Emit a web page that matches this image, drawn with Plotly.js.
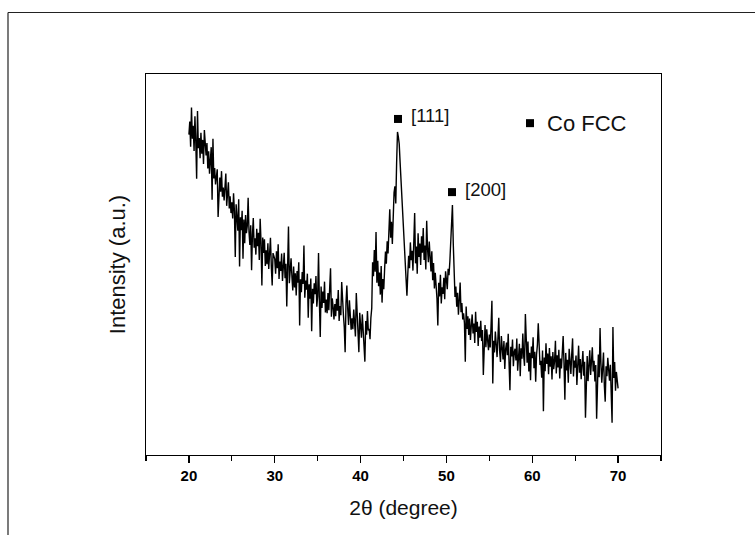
<!DOCTYPE html>
<html>
<head>
<meta charset="utf-8">
<script src="https://cdn.plot.ly/plotly-3.0.1.min.js"></script>
<style>
html,body{margin:0;padding:0;background:#fff;}
#chart{width:755px;height:535px;}
</style>
</head>
<body>
<div id="chart"></div>
<script>
// 2-theta sampling grid (degrees)
const twoThetaStart = 20.0;
const twoThetaStep = 0.1;

// Intensity (a.u.), one row per degree (20.0 ... 70.0)
const intensity = [
84.1,87.5,80.9,91.2,83.0,86.4,79.8,88.9,82.2,72.5,
90.3,80.5,83.2,77.9,84.6,79.1,82.7,76.4,85.3,80.0,
78.6,81.9,75.2,79.7,73.8,77.5,80.8,67.0,83.0,72.6,
75.3,71.0,73.9,75.0,62.5,70.4,72.8,69.1,74.5,67.8,
70.2,66.8,69.5,73.9,65.4,68.1,71.6,64.7,67.9,63.5,
66.3,62.1,68.7,64.0,52.0,65.8,63.2,58.9,67.1,49.5,
62.4,59.0,64.1,51.5,61.8,55.6,63.0,58.2,60.1,67.5,
58.6,55.1,60.3,48.5,57.7,62.2,54.4,56.9,52.6,59.4,
54.8,58.3,51.2,62.0,55.9,44.5,57.1,53.0,56.6,49.6,
53.7,50.1,55.6,48.8,52.9,57.0,49.5,44.5,53.0,51.8,
51.4,47.6,53.5,49.0,55.3,46.2,50.8,48.3,52.9,45.7,
49.8,53.1,46.4,50.2,39.0,47.9,60.0,45.1,48.7,51.6,
46.8,43.2,49.5,44.0,47.7,41.9,48.3,45.2,50.6,34.0,
46.1,42.7,48.0,44.9,55.0,41.3,45.8,43.4,47.6,36.0,
44.8,41.0,46.3,32.5,43.6,39.8,45.1,42.2,47.0,38.9,
41.7,53.0,40.3,31.0,44.2,38.6,42.9,39.9,45.5,37.4,
40.8,37.2,42.5,38.0,43.9,49.0,36.3,41.1,38.8,35.6,
39.6,36.4,41.0,37.9,43.3,35.2,39.1,36.7,45.4,38.0,
36.8,33.5,27.0,39.9,44.5,38.4,34.1,40.6,36.2,32.9,
35.9,33.0,38.2,34.6,31.1,42.5,36.4,32.2,27.0,37.3,
34.0,30.8,36.9,33.4,29.5,24.5,35.2,31.6,37.8,32.7,
33.1,30.4,36.0,38.5,50.6,46.9,53.8,48.1,58.5,45.2,
51.0,44.3,47.9,42.1,49.6,40.0,46.2,43.5,48.8,53.4,
50.2,56.1,52.9,58.8,64.5,57.0,61.2,55.4,63.6,68.9,
70.5,66.0,76.8,84.8,83.5,81.7,77.0,72.6,68.0,63.4,
58.9,55.2,50.7,44.8,41.8,47.5,52.3,49.0,55.8,51.1,
53.6,48.4,56.9,63.5,50.3,54.7,47.6,58.2,52.0,55.5,
49.9,57.4,53.1,59.6,51.2,55.0,48.7,61.5,54.3,50.6,
56.0,51.8,48.2,53.5,45.9,50.4,43.7,47.8,44.6,41.0,
34.0,45.2,41.6,47.3,39.8,44.0,42.3,46.5,40.9,48.2,
46.0,43.5,48.9,47.2,50.8,54.9,58.7,65.6,55.4,46.3,
41.5,44.2,38.9,42.6,36.8,40.7,45.3,37.5,39.9,35.6,
37.2,34.6,24.5,39.0,33.1,36.4,31.5,35.8,30.2,34.0,
36.9,31.9,34.5,29.4,37.6,32.3,35.0,28.6,33.7,30.8,
35.2,29.9,32.8,21.0,31.4,34.1,28.3,33.0,30.1,27.5,
31.6,28.2,33.9,40.5,18.8,30.0,26.9,32.4,29.1,25.7,
30.7,36.0,27.3,24.4,31.2,28.8,25.1,29.9,22.6,27.8,
29.5,26.2,31.8,24.0,17.0,28.4,25.9,30.3,23.3,27.0,
27.9,24.8,30.6,22.1,26.5,29.2,20.7,28.0,25.3,31.9,
26.0,23.4,37.0,27.7,24.2,29.8,21.9,26.8,19.6,28.5,
25.4,30.9,22.8,27.1,19.2,26.3,28.9,34.6,25.8,23.6,
24.7,20.3,27.4,11.5,25.6,22.0,29.3,23.9,26.6,21.2,
28.1,23.2,25.9,19.8,27.0,22.5,24.6,30.0,21.4,26.2,
23.0,27.6,20.1,25.3,22.7,28.4,31.2,24.0,14.5,26.8,
22.2,25.0,19.0,27.9,23.5,21.3,26.4,30.6,20.6,24.8,
22.9,26.1,18.4,24.3,28.7,21.6,25.2,19.9,23.8,27.3,
20.8,24.5,9.8,22.4,26.0,19.4,23.1,27.5,21.0,24.0,
28.3,21.9,24.7,19.3,23.6,9.5,22.2,26.4,20.4,33.3,
24.1,19.0,22.8,26.9,18.2,14.0,23.3,20.7,25.5,21.6,
19.5,23.7,17.8,8.5,33.6,20.2,24.4,16.9,21.8,18.6,
17.5
];

// Peak markers (Co FCC reflections) and legend marker
const peakLabels = ["[111]", "[200]"];
const peakX = [44.36, 50.65];
const peakMarkY = [88.2, 69.0];
const legendLabel = "Co FCC";
const legendX = [59.74];
const legendY = [87.1];

const twoTheta = intensity.map((_, i) => +(twoThetaStart + i * twoThetaStep).toFixed(2));

const FONT = "Arial, 'Liberation Sans', sans-serif";

const traces = [
  {
    x: twoTheta, y: intensity, type: "scatter", mode: "lines",
    line: {color: "#000", width: 1.4}, hoverinfo: "skip", showlegend: false
  },
  {
    x: peakX.concat(legendX), y: peakMarkY.concat(legendY), type: "scatter", mode: "markers",
    marker: {symbol: "square", size: 8, color: "#000"}, hoverinfo: "skip", showlegend: false
  }
];

const L = 146, R = 661, T = 74, B = 455;
const W = 755, H = 535;
const px = v => (v - L) / (R - L);
const py = v => (B - v) / (B - T);

const annotations = [
  {x: peakX[0], y: peakMarkY[0], xref: "x", yref: "y", text: peakLabels[0], showarrow: false,
   xanchor: "left", yanchor: "middle", xshift: 11, yshift: 3, font: {family: FONT, size: 18.5, color: "#111"}},
  {x: peakX[1], y: peakMarkY[1], xref: "x", yref: "y", text: peakLabels[1], showarrow: false,
   xanchor: "left", yanchor: "middle", xshift: 11, yshift: 3, font: {family: FONT, size: 18.5, color: "#111"}},
  {x: legendX[0], y: legendY[0], xref: "x", yref: "y", text: legendLabel, showarrow: false,
   xanchor: "left", yanchor: "middle", xshift: 15, yshift: 0, font: {family: FONT, size: 22, color: "#111"}}
];

const shapes = [
  {type: "line", xref: "paper", yref: "paper", x0: px(8), x1: px(W + 5), y0: py(12.5), y1: py(12.5),
   line: {color: "#222", width: 1.2}},
  {type: "line", xref: "paper", yref: "paper", x0: px(8), x1: px(8), y0: py(12.5), y1: py(H + 5),
   line: {color: "#222", width: 1.2}}
];

const layout = {
  width: W, height: H,
  margin: {l: L, r: W - R, t: T, b: H - B, pad: 0},
  paper_bgcolor: "#fff", plot_bgcolor: "#fff",
  showlegend: false,
  xaxis: {
    range: [15, 75], dtick: 10, tick0: 0,
    ticks: "outside", ticklen: 7, tickwidth: 1.2, tickcolor: "#000",
    minor: {dtick: 5, ticks: "outside", ticklen: 4.5, tickwidth: 1.2, tickcolor: "#000", showgrid: false},
    showline: true, linecolor: "#000", linewidth: 1.3, mirror: true,
    showgrid: false, zeroline: false,
    tickfont: {family: FONT, size: 15, color: "#000", weight: "bold"},
    title: {text: "2θ (degree)", font: {family: FONT, size: 21, color: "#111"}, standoff: 17}
  },
  yaxis: {
    range: [0, 100],
    showticklabels: false, ticks: "",
    showline: true, linecolor: "#000", linewidth: 1.3, mirror: true,
    showgrid: false, zeroline: false,
    title: {text: "Intensity (a.u.)", font: {family: FONT, size: 22, color: "#111"}, standoff: 13}
  },
  annotations: annotations,
  shapes: shapes
};

Plotly.newPlot("chart", traces, layout, {displayModeBar: false, staticPlot: true});
</script>
</body>
</html>
